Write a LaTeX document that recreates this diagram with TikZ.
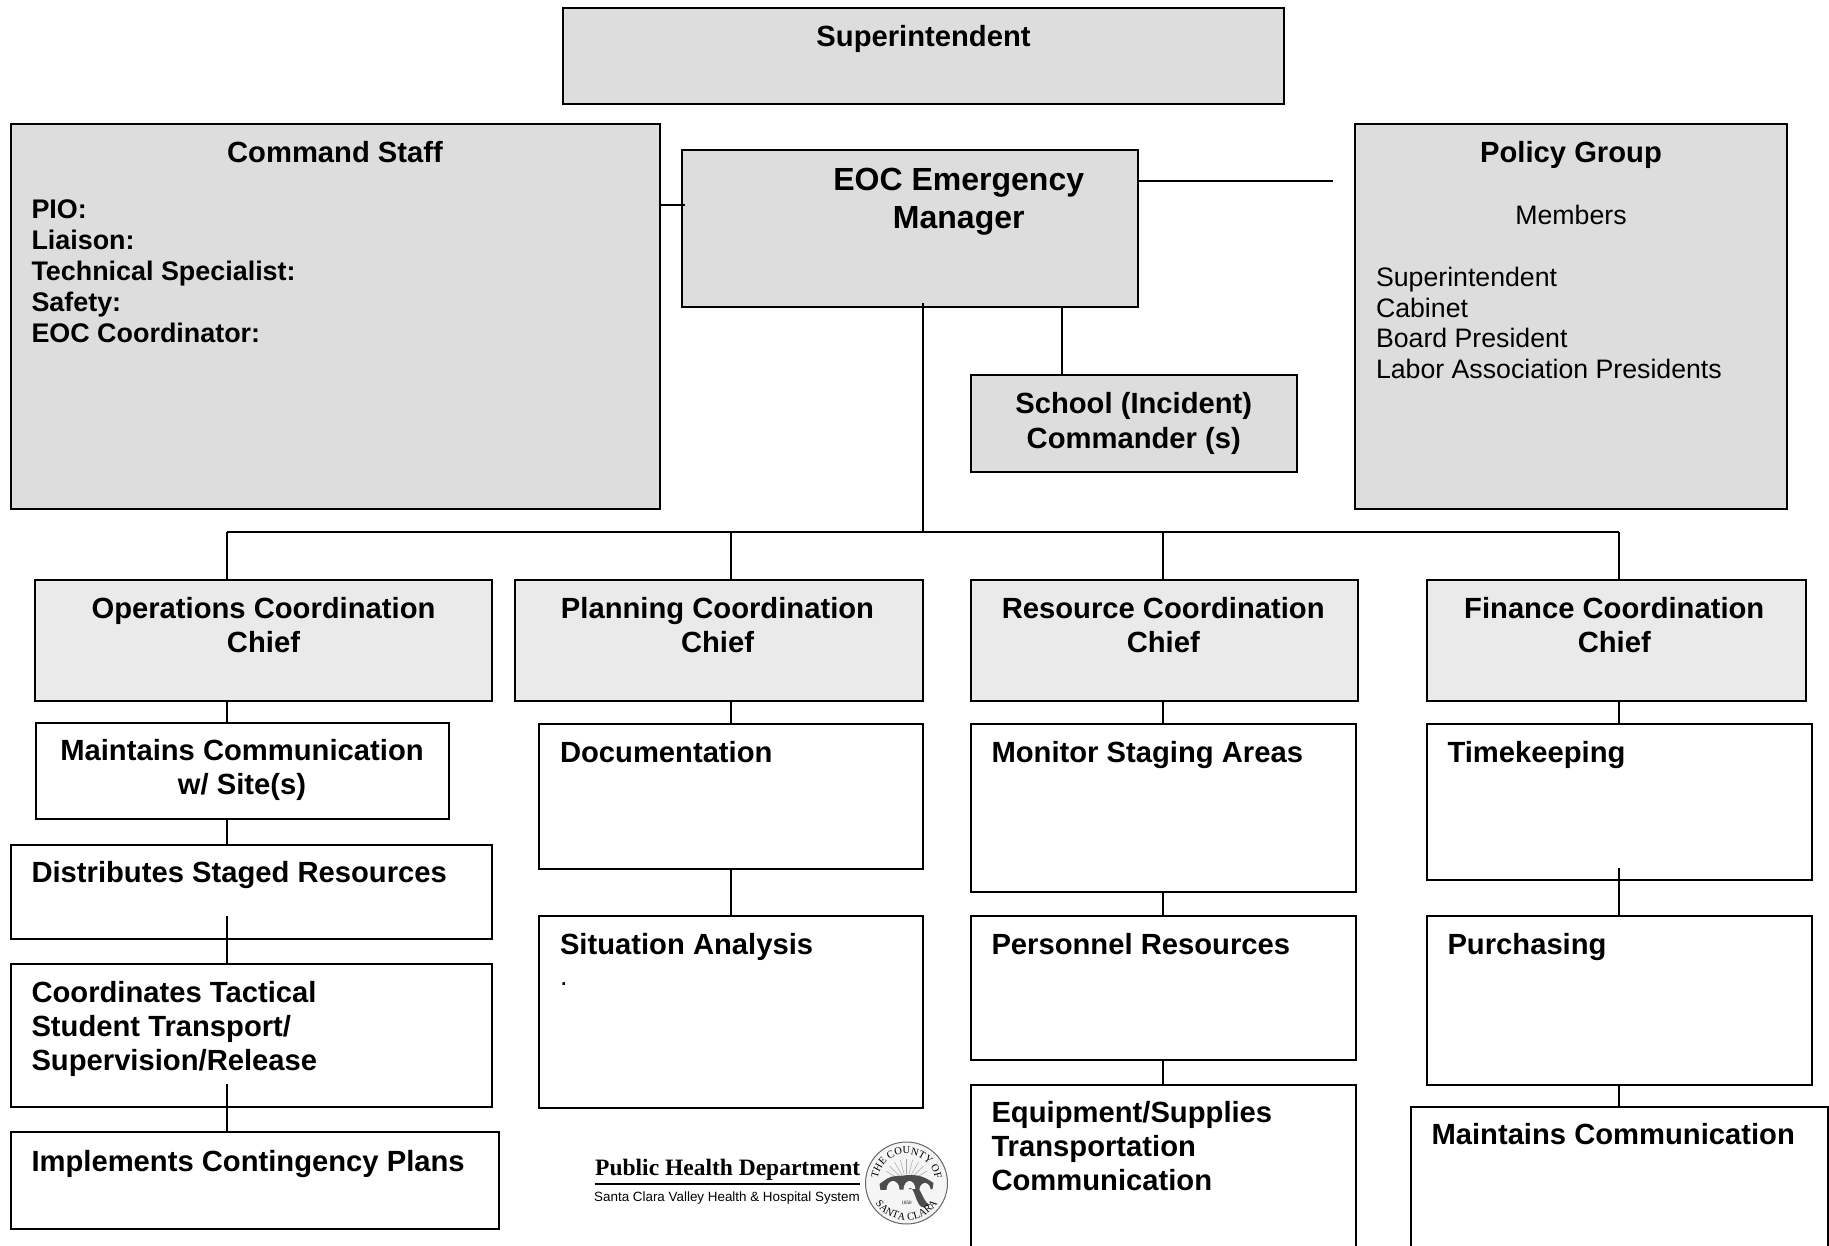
\documentclass[tikz,border=0pt]{standalone}
\usepackage{fontspec}
\setmainfont{Liberation Sans}
\newfontfamily\logofont{Liberation Serif}
\usetikzlibrary{positioning,calc,decorations.text}

\definecolor{topgray}{HTML}{DDDDDD}
\definecolor{chiefgray}{HTML}{EAEAEA}
\newcommand{\headfont}{\fontsize{29.2}{34}\selectfont\bfseries}
\newcommand{\listfont}{\fontsize{26.9}{31}\selectfont\bfseries}
\newcommand{\plainfont}{\fontsize{26.7}{30.7}\selectfont\mdseries}
\newcommand{\bossfont}{\fontsize{32}{37.3}\selectfont\bfseries}
\newcommand{\sealfont}{\logofont\fontsize{10.5}{11}\selectfont}

\tikzset{
	orgbox/.style={draw=black,line width=2pt,outer sep=0pt,inner ysep=0pt,inner xsep=21pt,align=flush left,font=\headfont},
	% width, height, first baseline below the top edge
	boxsize/.style n args={3}{text width=#1pt-42pt,text height=#3pt,text depth=#2pt-#3pt},
	topbox/.style={orgbox,fill=topgray},
	chiefbox/.style={orgbox,fill=chiefgray,align=flush center},
	link/.style={draw=black,line width=2pt}
}

\begin{document}
\begin{tikzpicture}[x=1pt,y=-1pt]
	\useasboundingbox (0,0) rectangle (1829,1246);
	\node (Super) [topbox,align=flush center,anchor=north west,boxsize={721}{96}{39}] at (563,8) {Superintendent};
	\node (Staff) [topbox,anchor=north west,boxsize={649}{385}{39}] at (10.5,124) {\makebox[\linewidth]{Command Staff}\\[25pt]\listfont PIO:\\Liaison:\\Technical Specialist:\\Safety:\\EOC Coordinator:\par};
	\node (EOC) [topbox,align=flush center,font=\bossfont,anchor=north west,boxsize={456.5}{157}{41}] at (681.5,150) {\hspace*{98pt}EOC Emergency\\\hspace*{98pt}Manager};
	\node (Policy) [topbox,anchor=north west,boxsize={432}{385}{39}] at (1355,124) {\makebox[\linewidth]{Policy Group}\\[31pt]\plainfont\makebox[\linewidth]{Members}\\[31pt]Superintendent\\Cabinet\\Board President\\Labor Association Presidents\par};
	\node (School) [topbox,align=flush center,anchor=north west,boxsize={326.5}{97}{38.5}] at (970.5,375) {School (Incident)\\[1pt]Commander (s)};
	\coordinate (StaffEnd) at (685,205.5);
	\coordinate (PolicyEnd) at (1333,181.5);
	\coordinate (SchoolLink) at (1062,307);
	\draw[link] (Staff.east |- StaffEnd) -- (StaffEnd);
	\draw[link] (EOC.east |- PolicyEnd) -- (PolicyEnd);
	\draw[link] (SchoolLink) -- (SchoolLink |- School.north);

	% chiefs
	\node (OpsChief) [chiefbox,anchor=north west,boxsize={457}{120.5}{38}] at (35,580) {Operations Coordination\\Chief};
	\node (PlanChief) [chiefbox,anchor=north west,boxsize={408}{120.5}{38}] at (515,580) {\hspace*{-3pt}Planning Coordination\\\hspace*{-3pt}Chief};
	\node (ResChief) [chiefbox,anchor=north west,boxsize={387.5}{120.5}{38}] at (970.5,580) {\hspace*{-2pt}Resource Coordination\\\hspace*{-2pt}Chief};
	\node (FinChief) [chiefbox,anchor=north west,boxsize={379.5}{120.5}{38}] at (1426.5,580) {\hspace*{-4pt}Finance Coordination\\\hspace*{-4pt}Chief};
	\coordinate (BusL) at (227,532);
	\coordinate (BusPlan) at (731,532);
	\coordinate (BusMid) at (923,532);
	\coordinate (BusRes) at (1163,532);
	\coordinate (BusR) at (1619,532);
	\coordinate (EOCIn) at (923,303);
	\draw[link] (BusL) -- (BusR);
	\draw[link] (EOCIn) -- (BusMid);
	\draw[link] (BusL) -- (BusL |- OpsChief.north);
	\draw[link] (BusPlan) -- (BusPlan |- PlanChief.north);
	\draw[link] (BusRes) -- (BusRes |- ResChief.north);
	\draw[link] (BusR) -- (BusR |- FinChief.north);

	% operations
	\node (Maint) [orgbox,align=flush center,anchor=north west,boxsize={413}{96}{37}] at (35.5,723) {Maintains Communication\\w/ Site(s)};
	\draw[link] (BusL |- OpsChief.south) -- (BusL |- Maint.north);
	\node (Distrib) [orgbox,anchor=north west,boxsize={481}{94}{37}] at (10.5,845) {Distributes Staged Resources};
	\draw[link] (BusL |- Maint.south) -- (BusL |- Distrib.north);
	\node (Tactical) [orgbox,below=25pt of Distrib.south west,anchor=north west,boxsize={481}{143}{38.5}] {Coordinates Tactical\\Student Transport/\\Supervision/Release};
	\coordinate (DistribIn) at (227,916);
	\draw[link] (DistribIn) -- (BusL |- Tactical.north);
	\node (Conting) [orgbox,below=25pt of Tactical.south west,anchor=north west,boxsize={488.5}{97}{39}] {Implements Contingency Plans};
	\coordinate (TacticalIn) at (227,1084);
	\draw[link] (TacticalIn) -- (BusL |- Conting.north);

	% planning
	\node (Docs) [orgbox,below=23.5pt of PlanChief.south east,anchor=north east,boxsize={384}{145}{38}] {Documentation};
	\draw[link] (BusPlan |- PlanChief.south) -- (BusPlan |- Docs.north);
	\node (Situation) [orgbox,below=47pt of Docs.south west,anchor=north west,boxsize={384}{192}{38}] {Situation Analysis\\[1pt]\plainfont .\par};
	\draw[link] (BusPlan |- Docs.south) -- (BusPlan |- Situation.north);

	% resources
	\node (Staging) [orgbox,below=23.5pt of ResChief.south west,anchor=north west,boxsize={385}{168}{38}] {Monitor Staging Areas};
	\draw[link] (BusRes |- ResChief.south) -- (BusRes |- Staging.north);
	\node (Personnel) [orgbox,below=23.5pt of Staging.south west,anchor=north west,boxsize={385}{144.5}{38.5}] {Personnel Resources};
	\draw[link] (BusRes |- Staging.south) -- (BusRes |- Personnel.north);
	\node (Equip) [orgbox,below=24.5pt of Personnel.south west,anchor=north west,boxsize={385}{200}{38}] {Equipment/Supplies\\Transportation\\Communication};
	\draw[link] (BusRes |- Personnel.south) -- (BusRes |- Equip.north);

	% finance
	\node (Time) [orgbox,below=23.5pt of FinChief.south west,anchor=north west,boxsize={385}{155.5}{38}] {Timekeeping};
	\draw[link] (BusR |- FinChief.south) -- (BusR |- Time.north);
	\node (Purchase) [orgbox,below=36.5pt of Time.south west,anchor=north west,boxsize={385}{168.5}{38}] {Purchasing};
	\coordinate (TimeIn) at (1619,868);
	\draw[link] (TimeIn) -- (BusR |- Purchase.north);
	\node (Comms) [orgbox,anchor=north west,boxsize={417.5}{200}{37}] at (1410.5,1107) {Maintains Communication};
	\draw[link] (BusR |- Purchase.south) -- (BusR |- Comms.north);

	% logo
	\node (LogoName) [font=\logofont\bfseries\fontsize{23.5}{25}\selectfont,inner sep=0pt,anchor=base west] at (595,1175) {Public Health Department};
	\node (LogoSub) [font=\fontsize{13.4}{15}\selectfont,inner sep=0pt,anchor=base west] at (594,1201.5) {Santa Clara Valley Health \& Hospital System};
	\draw[line width=2.5pt] (595,1184) -- (860,1184);
	\coordinate (Seal) at (906.5,1183);
	\draw[line width=1pt,black!60,fill=black!4] (Seal) circle (41pt);
	\foreach \ang in {30,45,...,150}
		\draw[line width=.5pt,black!35] ($(Seal)+(\ang:9pt)$) -- ($(Seal)+(\ang:24pt)$);
	\fill[black!70] ($(Seal)+(-27,1)$) to[out=35,in=180] ($(Seal)+(-10,-7)$) to[out=0,in=180] ($(Seal)+(4,-8)$) to[out=0,in=145] ($(Seal)+(27,0)$) -- ($(Seal)+(26,6)$) -- ($(Seal)+(-26,7)$) -- cycle;
	\fill[black!4] ($(Seal)+(-20,7)$) arc (180:0:6.5pt and 9pt) -- cycle;
	\fill[black!4] ($(Seal)+(-3,7)$) arc (180:0:6pt and 9pt) -- cycle;
	\fill[black!4] ($(Seal)+(13,7)$) arc (180:0:5.5pt and 7pt) -- cycle;
	\fill[black!70] ($(Seal)+(2,6)$) -- ($(Seal)+(9,6)$) to[out=60,in=-150] ($(Seal)+(25,21)$) -- ($(Seal)+(18,24)$) to[out=-160,in=50] cycle;
	\node (SealYear) [font=\logofont\fontsize{5}{6}\selectfont,inner sep=0pt] at ($(Seal)+(0,20)$) {1850};
	\path[postaction={decorate,decoration={text along path,text align=center,text={|\sealfont|THE COUNTY OF}}}] ($(Seal)+(200:29pt)$) arc (200:-20:29pt);
	\path[postaction={decorate,decoration={text along path,text align=center,text={|\sealfont|SANTA CLARA}}}] ($(Seal)+(205:37pt)$) arc (205:335:37pt);
\end{tikzpicture}
\end{document}
